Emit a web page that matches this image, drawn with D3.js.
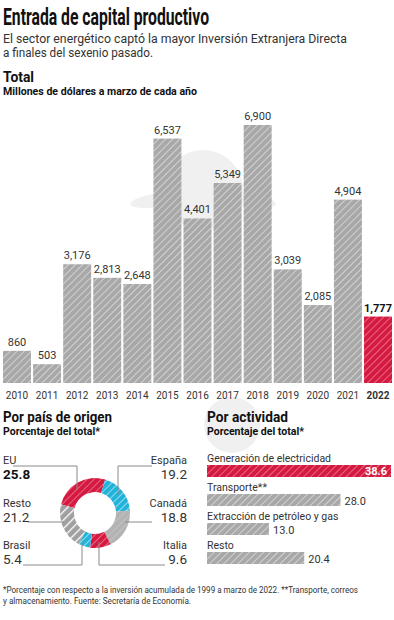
<!DOCTYPE html>
<html>
<head>
<meta charset="utf-8">
<script src="https://cdn.jsdelivr.net/npm/d3@7"></script>
<style>
  html, body { margin: 0; padding: 0; background: #fff; }
  svg { display: block; font-family: Roboto, "Open Sans", sans-serif; }
</style>
</head>
<body>
<svg id="chart"></svg>
<script>
// Data
const years = ['2010', '2011', '2012', '2013', '2014', '2015', '2016', '2017', '2018', '2019', '2020', '2021', '2022'];
const totals = [860, 503, 3176, 2813, 2648, 6537, 4401, 5349, 6900, 3039, 2085, 4904, 1777];

const countries = ['EU', 'España', 'Canadá', 'Italia', 'Brasil', 'Resto'];
const countryShares = [25.8, 19.2, 18.8, 9.6, 5.4, 21.2];

const activities = ['Generación de electricidad', 'Transporte**', 'Extracción de petróleo y gas', 'Resto'];
const activityShares = [38.6, 28.0, 13.0, 20.4];

const W = 394, H = 620;
const RED = '#d41a40', CYAN = '#23b3da', GRAY = '#a8a8a8';

const svg = d3.select('#chart').attr('width', W).attr('height', H);
const defs = svg.append('defs');

// Diagonal stripe pattern ("/" direction)
function stripes(id, base, line, size, lw) {
  const p = defs.append('pattern')
    .attr('id', id)
    .attr('patternUnits', 'userSpaceOnUse')
    .attr('width', size).attr('height', size)
    .attr('patternTransform', 'rotate(45)');
  p.append('rect').attr('width', size).attr('height', size).attr('fill', base);
  p.append('line')
    .attr('x1', 0).attr('y1', 0).attr('x2', 0).attr('y2', size)
    .attr('stroke', line).attr('stroke-width', lw);
}
stripes('hGray', GRAY, '#d6d6d6', 5, 1.8);
stripes('hRed', RED, '#ec6f88', 5, 1.8);
stripes('hCyan', CYAN, '#8fdcf0', 5, 2);
stripes('hGrayWide', '#a0a0a0', '#ffffff', 6, 2.6);
stripes('hGrayLight', '#b3b3b3', '#c6c6c6', 5, 1.5);

// Text helper: optional target width squeezes the glyphs
function txt(g, x, y, s, opts = {}) {
  const t = g.append('text')
    .attr('x', x).attr('y', y)
    .attr('font-size', opts.size || 12)
    .attr('font-weight', opts.weight || 'normal')
    .attr('fill', opts.fill || '#222')
    .attr('text-anchor', opts.anchor || 'start')
    .text(s);
  if (opts.width) t.attr('textLength', opts.width).attr('lengthAdjust', 'spacingAndGlyphs');
  return t;
}

// Faint watermark emblem behind the charts
const wm = svg.append('g').attr('fill', '#f0f0f0');
wm.append('circle').attr('cx', 203).attr('cy', 190).attr('r', 40);
wm.append('ellipse').attr('cx', 160).attr('cy', 200).attr('rx', 30).attr('ry', 7).attr('transform', 'rotate(-8 160 200)');
wm.append('ellipse').attr('cx', 246).attr('cy', 200).attr('rx', 30).attr('ry', 7).attr('transform', 'rotate(8 246 200)');
wm.append('circle').attr('cx', 232).attr('cy', 425).attr('r', 28);

// Header
txt(svg, 3, 25, 'Entrada de capital productivo', { size: 24, weight: 'bold', width: 206, fill: '#111' });
txt(svg, 3, 43, 'El sector energético captó la mayor Inversión Extranjera Directa', { size: 12.5, width: 344, fill: '#333' });
txt(svg, 3, 57, 'a finales del sexenio pasado.', { size: 12.5, width: 150, fill: '#333' });
txt(svg, 3, 82, 'Total', { size: 14, weight: 'bold', width: 31, fill: '#111' });
txt(svg, 3, 95, 'Millones de dólares a marzo de cada año', { size: 11, weight: 'bold', width: 194, fill: '#111' });

// Column chart
const x = d3.scaleBand().domain(years).range([3, 392]).paddingInner(0.07).paddingOuter(0);
const y = d3.scaleLinear().domain([0, 6900]).range([383, 125]);
const last = years[years.length - 1];

const cols = svg.append('g');
cols.selectAll('rect')
  .data(years)
  .join('rect')
  .attr('x', d => x(d))
  .attr('width', x.bandwidth())
  .attr('y', (d, i) => y(totals[i]))
  .attr('height', (d, i) => y(0) - y(totals[i]))
  .attr('fill', d => d === last ? 'url(#hRed)' : 'url(#hGray)');

cols.selectAll('text.val')
  .data(years)
  .join('text')
  .attr('class', 'val')
  .attr('x', d => x(d) + x.bandwidth() / 2)
  .attr('y', (d, i) => y(totals[i]) - 5)
  .attr('text-anchor', 'middle')
  .attr('font-size', 11)
  .attr('font-weight', d => d === last ? 'bold' : 'normal')
  .attr('fill', d => d === last ? '#111' : '#333')
  .text((d, i) => d3.format(',')(totals[i]));

const xAxis = svg.append('g').attr('transform', 'translate(0,383)')
  .call(d3.axisBottom(x).tickSize(0).tickPadding(9));
xAxis.select('.domain').remove();
xAxis.selectAll('text')
  .attr('font-size', 10)
  .attr('font-family', 'Roboto, sans-serif')
  .attr('fill', '#333')
  .attr('font-weight', d => d === last ? 'bold' : 'normal');

// Donut: por país de origen
txt(svg, 3, 422, 'Por país de origen', { size: 15, weight: 'bold', width: 109, fill: '#111' });
txt(svg, 3, 435, 'Porcentaje del total*', { size: 11, weight: 'bold', width: 97, fill: '#111' });

const cx = 95, cy = 513;
const pie = d3.pie().sort(null).value(d => d)
  .startAngle(-76 * Math.PI / 180).endAngle(-76 * Math.PI / 180 + 2 * Math.PI);
const arc = d3.arc().innerRadius(21).outerRadius(35);
const sliceFill = ['url(#hRed)', 'url(#hCyan)', 'url(#hGrayLight)', 'url(#hRed)', 'url(#hCyan)', 'url(#hGrayWide)'];

svg.append('g').attr('transform', `translate(${cx},${cy})`)
  .selectAll('path')
  .data(pie(countryShares))
  .join('path')
  .attr('d', arc)
  .attr('fill', (d, i) => sliceFill[i]);

// Leader lines (layout only)
const leaders = [
  [[13, 466], [77, 466], [77, 490]],
  [[152, 466], [118, 466], [118, 495]],
  [[152, 522], [125, 522]],
  [[165, 565], [99, 565], [99, 542]],
  [[23, 565], [82, 565], [82, 542]],
  [[28, 522], [64, 522]]
];
svg.append('g').selectAll('path')
  .data(leaders)
  .join('path')
  .attr('d', d => d3.line()(d))
  .attr('fill', 'none')
  .attr('stroke', '#8a8a8a')
  .attr('stroke-width', 1);

// Country labels
const labelPos = [
  { x: 3, y: 464, anchor: 'start' },
  { x: 187, y: 464, anchor: 'end' },
  { x: 187, y: 507, anchor: 'end' },
  { x: 187, y: 549, anchor: 'end' },
  { x: 3, y: 549, anchor: 'start' },
  { x: 3, y: 507, anchor: 'start' }
];
countries.forEach((c, i) => {
  const p = labelPos[i];
  txt(svg, p.x, p.y, c, { size: 11, anchor: p.anchor, fill: '#333' });
  txt(svg, p.x, p.y + 15, d3.format('.1f')(countryShares[i]), {
    size: 13.5, anchor: p.anchor,
    weight: i === 0 ? 'bold' : 'normal',
    fill: i === 0 ? '#111' : '#333'
  });
});

// Horizontal bars: por actividad
txt(svg, 207, 422, 'Por actividad', { size: 15, weight: 'bold', width: 81, fill: '#111' });
txt(svg, 207, 435, 'Porcentaje del total*', { size: 11, weight: 'bold', width: 97, fill: '#111' });

const hx = d3.scaleLinear().domain([0, 38.6]).range([0, 184]);
const hy = d3.scaleBand().domain(activities).range([465, 581]).paddingInner(0).paddingOuter(0);
const barH = 12;

const hb = svg.append('g').attr('transform', 'translate(207,0)');
activities.forEach((a, i) => {
  const top = hy(a);
  const w = hx(activityShares[i]);
  txt(hb, 0, top - 3, a, { size: 10.5, fill: '#333' });
  hb.append('rect')
    .attr('x', 0).attr('y', top)
    .attr('width', w).attr('height', barH)
    .attr('fill', i === 0 ? 'url(#hRed)' : 'url(#hGray)');
  if (i === 0) {
    txt(hb, w - 4, top + 10, d3.format('.1f')(activityShares[i]), { size: 11, weight: 'bold', anchor: 'end', fill: '#fff' });
  } else {
    txt(hb, w + 4, top + 11, d3.format('.1f')(activityShares[i]), { size: 11, fill: '#333' });
  }
});

// Footnote
txt(svg, 3, 593, '*Porcentaje con respecto a la inversión acumulada de 1999 a marzo de 2022. **Transporte, correos', { size: 8.5, width: 355, fill: '#333' });
txt(svg, 3, 604, 'y almacenamiento. Fuente: Secretaría de Economía.', { size: 8.5, width: 188, fill: '#333' });
</script>
</body>
</html>
